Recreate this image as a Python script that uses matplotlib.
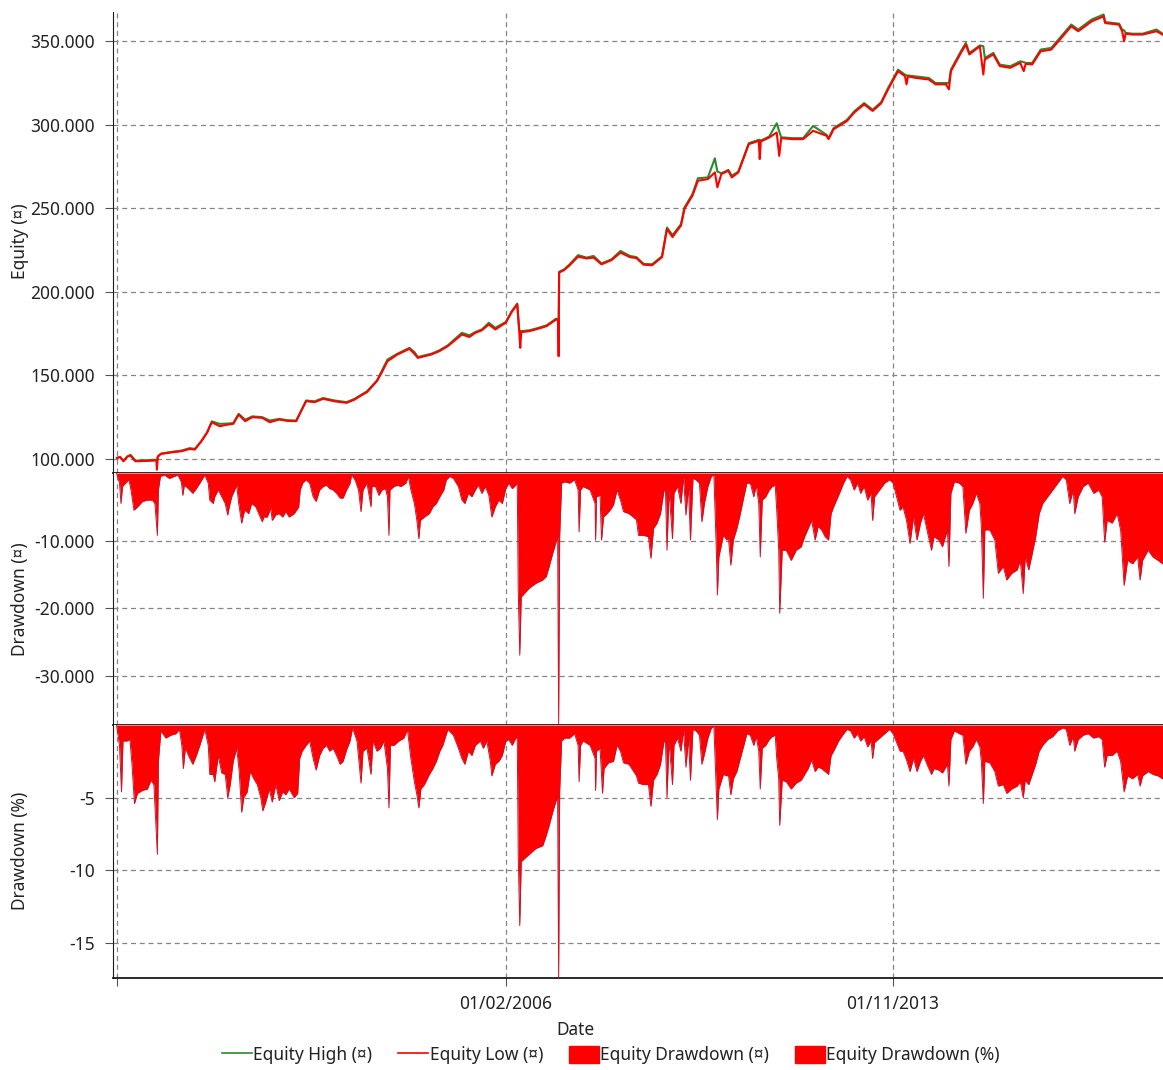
import matplotlib
matplotlib.use('Agg')
import matplotlib.pyplot as plt
import matplotlib.ticker as mticker
from matplotlib.lines import Line2D
from matplotlib.patches import Patch
import pandas as pd

plt.rcParams['font.family'] = ['Noto Sans', 'DejaVu Sans']

#Equity curve (decimal years), low and high values
eq_years = [1998.29, 1998.35, 1998.42, 1998.50, 1998.56, 1998.66, 1998.85, 1999.03, 1999.08, 1999.09,
            1999.11, 1999.17, 1999.40, 1999.58, 1999.75, 1999.85, 1999.98, 2000.10, 2000.19, 2000.35,
            2000.52, 2000.62, 2000.73, 2000.86, 2001.00, 2001.20, 2001.35, 2001.54, 2001.70, 2001.88,
            2001.95, 2002.08, 2002.25, 2002.42, 2002.65, 2002.89, 2003.05, 2003.16, 2003.30, 2003.50,
            2003.60, 2003.71, 2003.91, 2004.15, 2004.25, 2004.32, 2004.59, 2004.75, 2004.92, 2005.20,
            2005.35, 2005.47, 2005.60, 2005.74, 2005.87, 2006.08, 2006.20, 2006.31, 2006.35, 2006.37,
            2006.39, 2006.55, 2006.68, 2006.90, 2007.09, 2007.13, 2007.14, 2007.15, 2007.25, 2007.36,
            2007.53, 2007.70, 2007.84, 2008.00, 2008.20, 2008.38, 2008.57, 2008.70, 2008.84, 2009.01,
            2009.21, 2009.31, 2009.42, 2009.59, 2009.66, 2009.82, 2009.93, 2010.13, 2010.27, 2010.32,
            2010.40, 2010.54, 2010.61, 2010.74, 2010.95, 2011.15, 2011.17, 2011.19, 2011.36, 2011.51,
            2011.56, 2011.60, 2011.83, 2012.04, 2012.24, 2012.51, 2012.55, 2012.65, 2012.92, 2013.06,
            2013.26, 2013.43, 2013.60, 2013.74, 2013.94, 2014.08, 2014.11, 2014.14, 2014.28, 2014.56,
            2014.69, 2014.90, 2014.96, 2015.00, 2015.20, 2015.30, 2015.37, 2015.58, 2015.65, 2015.68,
            2015.85, 2015.98, 2016.19, 2016.39, 2016.46, 2016.50, 2016.63, 2016.80, 2017.01, 2017.21,
            2017.41, 2017.55, 2017.82, 2018.06, 2018.09, 2018.37, 2018.43, 2018.47, 2018.50, 2018.64,
            2018.84, 2019.12, 2019.24]
eq_low = [100600, 101200, 98600, 101500, 102000, 98600, 98800, 99000, 99200, 93600,
          101500, 103000, 104000, 104600, 106000, 105600, 110600, 116000, 122000, 119600,
          120600, 121000, 126600, 122600, 125000, 124600, 122000, 123600, 122800, 122600,
          127000, 134600, 134000, 136000, 134500, 133600, 135500, 137600, 140000, 146600,
          152000, 158500, 162500, 165900, 163000, 160500, 162500, 164500, 167500, 174500,
          173000, 175500, 177000, 180500, 177500, 181500, 188000, 192500, 176500, 166500,
          175900, 176500, 177500, 179500, 183500, 183000, 161500, 211600, 213000, 215900,
          221100, 220000, 220500, 216500, 219000, 223500, 220800, 220200, 216300, 215900,
          220800, 237700, 232800, 239700, 249700, 257600, 266500, 267500, 271500, 262600,
          270500, 272500, 268500, 271500, 288400, 290400, 279500, 290000, 292400, 295400,
          281400, 292000, 291400, 291400, 296400, 293400, 291400, 297300, 302300, 307300,
          312200, 308300, 312800, 321200, 332100, 329100, 324200, 329000, 328100, 327100,
          324200, 324200, 321200, 332100, 343000, 348000, 342100, 347000, 330100, 339100,
          342100, 335100, 334100, 337100, 332100, 336500, 336100, 344000, 345000, 352000,
          358900, 356000, 361900, 364900, 360900, 359900, 356000, 350000, 354500, 354000,
          354000, 356000, 354000]
eq_high = [100600, 101200, 99000, 101500, 102500, 99000, 99200, 99500, 99500, 99500,
           101500, 103200, 104300, 105000, 106500, 106000, 110600, 116000, 122500, 121000,
           121200, 121500, 127000, 123500, 125500, 125000, 123000, 124000, 123200, 123000,
           127000, 135000, 134500, 136500, 135000, 134000, 136000, 138000, 140500, 147000,
           153000, 159500, 163000, 166500, 164000, 161000, 163000, 165000, 168000, 175500,
           174000, 176000, 177500, 181500, 178500, 182000, 188500, 193000, 177000, 176500,
           176500, 177000, 178000, 180000, 184000, 183500, 183500, 212000, 213500, 216500,
           222000, 220500, 221500, 217000, 219500, 224500, 221500, 220800, 216800, 216500,
           221300, 238500, 234000, 240500, 250500, 258500, 268000, 268500, 279900, 272000,
           271000, 273000, 269500, 272000, 289000, 291000, 291000, 290500, 293000, 300900,
           296000, 292500, 292000, 292000, 299300, 294000, 292000, 298000, 303000, 308000,
           313000, 309000, 313500, 322000, 333000, 330000, 329500, 329500, 329000, 328000,
           325000, 325000, 325000, 333000, 344000, 349000, 343000, 347500, 347000, 340000,
           343000, 336000, 335000, 338000, 337500, 337000, 337000, 345000, 346000, 353000,
           360000, 357000, 363000, 366000, 361500, 360500, 357000, 356500, 355000, 354500,
           354500, 357000, 354500]

#Equity drawdown in currency
dd_cash_years = [1998.28, 1998.34, 1998.37, 1998.40, 1998.46, 1998.53, 1998.57, 1998.63, 1998.70, 1998.80,
                 1998.90, 1999.00, 1999.05, 1999.10, 1999.12, 1999.16, 1999.24, 1999.34, 1999.44, 1999.51,
                 1999.58, 1999.61, 1999.64, 1999.72, 1999.81, 1999.88, 1999.95, 2000.05, 2000.12, 2000.15,
                 2000.22, 2000.25, 2000.32, 2000.39, 2000.46, 2000.51, 2000.54, 2000.59, 2000.69, 2000.73,
                 2000.79, 2000.83, 2000.86, 2000.93, 2000.99, 2001.07, 2001.13, 2001.20, 2001.23, 2001.30,
                 2001.37, 2001.40, 2001.47, 2001.54, 2001.61, 2001.67, 2001.74, 2001.84, 2001.93, 2001.96,
                 2002.01, 2002.08, 2002.15, 2002.22, 2002.28, 2002.35, 2002.42, 2002.49, 2002.55, 2002.62,
                 2002.69, 2002.76, 2002.82, 2002.89, 2002.96, 2002.99, 2003.06, 2003.13, 2003.18, 2003.22,
                 2003.30, 2003.38, 2003.40, 2003.47, 2003.54, 2003.60, 2003.67, 2003.71, 2003.74, 2003.76,
                 2003.84, 2003.91, 2003.98, 2004.08, 2004.13, 2004.18, 2004.25, 2004.30, 2004.34, 2004.37,
                 2004.45, 2004.55, 2004.62, 2004.69, 2004.76, 2004.84, 2004.89, 2004.96, 2005.03, 2005.13,
                 2005.20, 2005.26, 2005.33, 2005.40, 2005.47, 2005.53, 2005.60, 2005.67, 2005.74, 2005.80,
                 2005.87, 2005.94, 2006.01, 2006.08, 2006.14, 2006.21, 2006.28, 2006.31, 2006.33, 2006.36,
                 2006.39, 2006.45, 2006.55, 2006.68, 2006.82, 2006.89, 2006.95, 2007.02, 2007.08, 2007.12,
                 2007.14, 2007.16, 2007.20, 2007.26, 2007.36, 2007.46, 2007.53, 2007.55, 2007.58, 2007.63,
                 2007.77, 2007.87, 2007.88, 2007.90, 2007.97, 2008.00, 2008.04, 2008.11, 2008.17, 2008.24,
                 2008.31, 2008.38, 2008.44, 2008.55, 2008.70, 2008.74, 2008.84, 2008.94, 2008.99, 2009.04,
                 2009.11, 2009.18, 2009.25, 2009.28, 2009.31, 2009.35, 2009.42, 2009.45, 2009.52, 2009.59,
                 2009.64, 2009.69, 2009.74, 2009.78, 2009.83, 2009.89, 2009.96, 2010.01, 2010.06, 2010.13,
                 2010.20, 2010.25, 2010.30, 2010.32, 2010.35, 2010.44, 2010.51, 2010.54, 2010.59, 2010.64,
                 2010.71, 2010.78, 2010.85, 2010.91, 2010.98, 2011.05, 2011.10, 2011.15, 2011.18, 2011.22,
                 2011.29, 2011.36, 2011.42, 2011.48, 2011.51, 2011.55, 2011.57, 2011.62, 2011.70, 2011.80,
                 2011.90, 2012.00, 2012.07, 2012.14, 2012.21, 2012.28, 2012.34, 2012.41, 2012.48, 2012.55,
                 2012.60, 2012.65, 2012.75, 2012.85, 2012.92, 2012.99, 2013.06, 2013.13, 2013.19, 2013.26,
                 2013.33, 2013.40, 2013.43, 2013.47, 2013.57, 2013.67, 2013.77, 2013.84, 2013.91, 2013.98,
                 2014.04, 2014.11, 2014.18, 2014.25, 2014.32, 2014.39, 2014.45, 2014.52, 2014.61, 2014.66,
                 2014.76, 2014.83, 2014.93, 2014.96, 2015.00, 2015.07, 2015.17, 2015.24, 2015.30, 2015.37,
                 2015.44, 2015.51, 2015.58, 2015.61, 2015.65, 2015.68, 2015.78, 2015.88, 2015.95, 2016.05,
                 2016.12, 2016.22, 2016.33, 2016.39, 2016.45, 2016.49, 2016.56, 2016.63, 2016.70, 2016.77,
                 2016.84, 2016.94, 2017.04, 2017.14, 2017.24, 2017.31, 2017.38, 2017.45, 2017.48, 2017.55,
                 2017.65, 2017.75, 2017.86, 2017.96, 2018.03, 2018.08, 2018.13, 2018.23, 2018.33, 2018.40,
                 2018.43, 2018.47, 2018.54, 2018.64, 2018.74, 2018.79, 2018.84, 2018.95, 2019.05, 2019.15,
                 2019.24]
dd_cash = [0, -1500, -4500, -2000, -1500, -1000, -2500, -5500, -5000, -4200,
           -4000, -4000, -4500, -9200, -2500, -500, -300, -800, -500, -300,
           -1300, -3300, -1800, -2300, -3000, -2300, -1500, -300, -1500, -4000,
           -4500, -3500, -2500, -3500, -4500, -6200, -5000, -3500, -1800, -4500,
           -7400, -6000, -5500, -6000, -4500, -5000, -6000, -7200, -6500, -6500,
           -5200, -7000, -6200, -6000, -6500, -5700, -6500, -6000, -5000, -2500,
           -1500, -1000, -1500, -3500, -4200, -2500, -2000, -1800, -2300, -2500,
           -3000, -3700, -3700, -2500, -1500, -300, -1000, -2500, -5700, -2500,
           -1500, -5000, -2000, -2000, -3300, -2500, -2300, -3500, -9200, -2500,
           -2000, -1800, -2000, -1500, -500, -2500, -4500, -7000, -9700, -7000,
           -6500, -6000, -5000, -4500, -3500, -2500, -1000, -500, -800, -2000,
           -4000, -4500, -3000, -3500, -2500, -1800, -3000, -2000, -3300, -6500,
           -5000, -4000, -4500, -2300, -1500, -2300, -1800, -1500, -17300, -26900,
           -18300, -17800, -17000, -16300, -15800, -15300, -13800, -11900, -10400, -9400,
           -37000, -9400, -1500, -1300, -1500, -1000, -2500, -8700, -2500, -2000,
           -2500, -4500, -9900, -3500, -3300, -9900, -6500, -6000, -5500, -4700,
           -2500, -4000, -5700, -6000, -6900, -9200, -9200, -9400, -12600, -8200,
           -7400, -6000, -2500, -2800, -11400, -2500, -9700, -3000, -2000, -4500,
           -500, -6200, -2000, -9900, -800, -1000, -1500, -7200, -4500, -2000,
           -500, -300, -11600, -18000, -12400, -9200, -9900, -9400, -13600, -9900,
           -8200, -6000, -3500, -1500, -1500, -3500, -1800, -4500, -12400, -4000,
           -3500, -2500, -2000, -1800, -5500, -11400, -20700, -11400, -11400, -12900,
           -11400, -10900, -9400, -8200, -7000, -9900, -7900, -8400, -9400, -9900,
           -6000, -5000, -3300, -1500, -500, -1000, -2500, -1500, -3000, -2000,
           -4000, -3000, -7000, -3500, -2500, -1500, -1000, -1500, -3500, -5500,
           -5000, -7000, -10400, -6500, -9900, -7400, -6000, -8400, -11400, -9400,
           -9900, -10900, -8400, -13800, -3000, -1300, -1500, -2000, -8900, -5500,
           -4500, -3000, -4500, -7900, -18500, -8400, -8400, -9900, -14800, -13800,
           -15800, -14800, -14300, -12900, -17800, -12400, -14300, -11900, -9400, -6000,
           -4500, -3500, -2500, -1500, -500, -1000, -4500, -2500, -6000, -3500,
           -2000, -1500, -3000, -2500, -3500, -10200, -7000, -7400, -6000, -8400,
           -11900, -16600, -12900, -13400, -12400, -15800, -12900, -11400, -12400, -12900,
           -13400]

#Equity drawdown in percent
dd_pct_years = [1998.28, 1998.34, 1998.38, 1998.41, 1998.49, 1998.55, 1998.59, 1998.64, 1998.70, 1998.80,
                1998.90, 1998.97, 1999.03, 1999.10, 1999.12, 1999.17, 1999.27, 1999.37, 1999.47, 1999.54,
                1999.59, 1999.62, 1999.66, 1999.75, 1999.81, 1999.88, 1999.95, 2000.05, 2000.12, 2000.15,
                2000.22, 2000.25, 2000.32, 2000.39, 2000.46, 2000.51, 2000.56, 2000.62, 2000.69, 2000.74,
                2000.79, 2000.83, 2000.90, 2000.96, 2001.03, 2001.10, 2001.17, 2001.21, 2001.27, 2001.34,
                2001.40, 2001.47, 2001.54, 2001.61, 2001.67, 2001.74, 2001.84, 2001.91, 2001.95, 2002.00,
                2002.08, 2002.15, 2002.22, 2002.28, 2002.35, 2002.42, 2002.49, 2002.55, 2002.62, 2002.69,
                2002.76, 2002.82, 2002.89, 2002.96, 2003.01, 2003.10, 2003.18, 2003.22, 2003.30, 2003.38,
                2003.42, 2003.50, 2003.57, 2003.64, 2003.71, 2003.74, 2003.77, 2003.84, 2003.94, 2004.04,
                2004.11, 2004.18, 2004.25, 2004.30, 2004.34, 2004.38, 2004.45, 2004.55, 2004.62, 2004.69,
                2004.76, 2004.82, 2004.92, 2005.03, 2005.13, 2005.20, 2005.26, 2005.33, 2005.40, 2005.47,
                2005.57, 2005.63, 2005.70, 2005.77, 2005.80, 2005.87, 2005.94, 2006.01, 2006.08, 2006.14,
                2006.21, 2006.28, 2006.31, 2006.33, 2006.36, 2006.39, 2006.45, 2006.55, 2006.68, 2006.82,
                2006.89, 2006.95, 2007.02, 2007.08, 2007.12, 2007.14, 2007.16, 2007.20, 2007.26, 2007.36,
                2007.46, 2007.53, 2007.55, 2007.58, 2007.63, 2007.77, 2007.87, 2007.88, 2007.90, 2007.97,
                2008.02, 2008.05, 2008.14, 2008.24, 2008.31, 2008.38, 2008.44, 2008.55, 2008.70, 2008.74,
                2008.84, 2008.94, 2008.99, 2009.04, 2009.11, 2009.18, 2009.25, 2009.28, 2009.31, 2009.35,
                2009.42, 2009.45, 2009.52, 2009.59, 2009.64, 2009.69, 2009.74, 2009.78, 2009.83, 2009.89,
                2009.96, 2010.01, 2010.06, 2010.13, 2010.20, 2010.25, 2010.30, 2010.32, 2010.35, 2010.44,
                2010.51, 2010.54, 2010.59, 2010.64, 2010.71, 2010.78, 2010.85, 2010.91, 2010.98, 2011.05,
                2011.10, 2011.15, 2011.18, 2011.22, 2011.29, 2011.36, 2011.42, 2011.48, 2011.51, 2011.55,
                2011.57, 2011.62, 2011.70, 2011.80, 2011.90, 2012.00, 2012.07, 2012.14, 2012.21, 2012.28,
                2012.34, 2012.41, 2012.48, 2012.55, 2012.60, 2012.65, 2012.75, 2012.85, 2012.92, 2012.99,
                2013.06, 2013.13, 2013.19, 2013.26, 2013.33, 2013.40, 2013.43, 2013.47, 2013.57, 2013.67,
                2013.77, 2013.84, 2013.91, 2013.98, 2014.04, 2014.11, 2014.18, 2014.25, 2014.32, 2014.39,
                2014.45, 2014.52, 2014.61, 2014.66, 2014.76, 2014.83, 2014.93, 2014.96, 2015.00, 2015.07,
                2015.17, 2015.24, 2015.30, 2015.37, 2015.44, 2015.51, 2015.58, 2015.61, 2015.65, 2015.68,
                2015.78, 2015.88, 2015.95, 2016.05, 2016.12, 2016.22, 2016.33, 2016.39, 2016.45, 2016.49,
                2016.56, 2016.63, 2016.70, 2016.77, 2016.84, 2016.94, 2017.04, 2017.14, 2017.24, 2017.31,
                2017.38, 2017.45, 2017.48, 2017.55, 2017.65, 2017.75, 2017.86, 2017.96, 2018.03, 2018.08,
                2018.13, 2018.23, 2018.33, 2018.40, 2018.43, 2018.47, 2018.54, 2018.64, 2018.74, 2018.79,
                2018.84, 2018.95, 2019.05, 2019.15, 2019.24]
dd_pct = [0, -1.4, -4.6, -1.1, -1.1, -1.0, -2.7, -5.4, -4.7, -4.5,
          -4.4, -3.8, -4.1, -8.9, -2.5, -0.4, -0.9, -0.7, -0.6, -0.3,
          -1.4, -3.0, -1.6, -2.3, -2.7, -2.1, -1.4, -0.3, -1.4, -3.4,
          -3.4, -3.9, -2.1, -3.3, -3.4, -5.0, -4.1, -2.5, -1.6, -3.2,
          -6.0, -5.0, -4.6, -3.2, -3.7, -4.1, -5.0, -5.9, -5.3, -4.4,
          -5.3, -4.1, -5.2, -4.6, -4.8, -4.4, -5.0, -4.7, -2.3, -1.8,
          -1.4, -1.1, -2.3, -3.1, -2.1, -1.6, -1.4, -1.8, -1.6, -2.1,
          -2.7, -2.5, -1.7, -1.1, -0.2, -1.1, -4.0, -1.8, -1.6, -3.4,
          -1.1, -1.8, -1.6, -1.1, -3.0, -5.7, -1.4, -1.4, -1.1, -0.9,
          -0.3, -2.3, -3.9, -4.8, -5.7, -4.4, -4.1, -3.4, -3.0, -2.5,
          -1.8, -1.4, -0.3, -0.7, -1.6, -2.3, -2.7, -1.8, -2.1, -1.4,
          -1.1, -1.6, -1.1, -2.5, -3.5, -2.7, -2.5, -2.1, -1.1, -1.0,
          -1.4, -0.9, -0.9, -9.0, -13.8, -9.4, -9.2, -8.9, -8.5, -8.3,
          -7.6, -6.9, -6.0, -5.3, -5.0, -17.4, -4.6, -1.1, -0.9, -0.9,
          -0.6, -1.4, -3.9, -1.4, -1.1, -1.4, -2.3, -4.5, -1.8, -1.6,
          -4.7, -3.0, -2.6, -2.5, -1.4, -1.8, -2.6, -2.7, -3.5, -4.0,
          -4.1, -4.1, -5.6, -3.8, -3.4, -2.7, -1.1, -1.2, -5.0, -1.1,
          -4.1, -1.4, -0.9, -1.8, -0.3, -2.9, -0.9, -3.8, -0.3, -0.4,
          -0.7, -2.7, -2.0, -0.9, -0.2, -0.1, -4.6, -6.5, -4.4, -3.4,
          -3.5, -3.4, -4.8, -3.7, -3.2, -2.3, -1.4, -0.6, -0.7, -1.4,
          -0.8, -1.8, -4.4, -1.6, -1.4, -1.0, -0.8, -0.7, -2.3, -3.7,
          -6.9, -3.8, -3.9, -4.4, -4.0, -3.8, -3.4, -3.0, -2.4, -3.2,
          -2.9, -3.0, -3.2, -3.4, -2.1, -1.8, -1.1, -0.6, -0.3, -0.4,
          -0.9, -0.6, -1.1, -0.8, -1.5, -1.1, -2.3, -1.2, -0.9, -0.6,
          -0.3, -0.6, -1.2, -1.8, -1.8, -2.4, -3.2, -2.3, -3.2, -2.5,
          -2.1, -2.7, -3.4, -3.0, -3.1, -3.3, -2.7, -4.2, -1.0, -0.4,
          -0.6, -0.7, -2.7, -1.8, -1.5, -1.0, -1.5, -2.5, -5.4, -2.5,
          -2.6, -3.2, -4.2, -4.1, -4.7, -4.4, -4.2, -3.9, -5.0, -3.8,
          -4.1, -3.4, -2.7, -1.8, -1.4, -1.0, -0.8, -0.4, -0.2, -0.3,
          -1.4, -0.8, -1.8, -1.0, -0.7, -0.6, -0.9, -0.8, -1.0, -2.9,
          -2.1, -2.1, -1.8, -2.5, -3.4, -4.6, -3.5, -3.7, -3.4, -4.2,
          -3.5, -3.2, -3.4, -3.5, -3.7]

tick_dates = ['1998-04-17', '2006-02-01', '2013-11-01']
tick_labels = ['', '01/02/2006', '01/11/2013']


def to_dates(years):
    out = []
    for y in years:
        base = pd.Timestamp(year=int(y), month=1, day=1)
        out.append(base + pd.Timedelta(days=(y - int(y)) * 365.25))
    return out


def thousands(v, pos):
    return f'{v:,.0f}'.replace(',', '.')


def main():
    fig = plt.figure(figsize=(11.63, 10.70), dpi=100)
    left = 113 / 1163
    width = 1 - left
    ax1 = fig.add_axes([left, 1 - 473 / 1070, width, 461 / 1070])
    ax2 = fig.add_axes([left, 1 - 725 / 1070, width, 252 / 1070], sharex=ax1)
    ax3 = fig.add_axes([left, 1 - 978 / 1070, width, 253 / 1070], sharex=ax1)

    red = '#ff0000'
    green = '#2a8a2a'
    edge = '#c8142a'
    text_col = '#222222'
    fs = 12.5

    eq_d = to_dates(eq_years)
    ax1.plot(eq_d, eq_high, color=green, lw=1.5, zorder=3)
    ax1.plot(eq_d, eq_low, color=red, lw=1.5, zorder=4)

    dd_d = to_dates(dd_cash_years)
    ax2.fill_between(dd_d, dd_cash, 0, color=red, lw=0, zorder=3)
    ax2.plot(dd_d, dd_cash, color=edge, lw=0.7, zorder=4)

    pct_d = to_dates(dd_pct_years)
    ax3.fill_between(pct_d, dd_pct, 0, color=red, lw=0, zorder=3)
    ax3.plot(pct_d, dd_pct, color=edge, lw=0.7, zorder=4)

    ax1.set_ylim(91600, 367500)
    ax1.set_yticks([100000, 150000, 200000, 250000, 300000, 350000])
    ax2.set_ylim(-37200, 0)
    ax2.set_yticks([-30000, -20000, -10000])
    ax3.set_ylim(-17.4, 0)
    ax3.set_yticks([-15, -10, -5])
    ax1.yaxis.set_major_formatter(mticker.FuncFormatter(thousands))
    ax2.yaxis.set_major_formatter(mticker.FuncFormatter(thousands))
    ax3.yaxis.set_major_formatter(mticker.FuncFormatter(lambda v, p: f'{v:.0f}'))

    ax1.set_xlim(to_dates([1998.21])[0], to_dates([2019.25])[0])
    ticks = [pd.Timestamp(t) for t in tick_dates]

    for ax in (ax1, ax2, ax3):
        ax.set_xticks(ticks)
        ax.grid(True, color='#858585', linestyle=(0, (4, 3)), linewidth=0.9, zorder=1)
        ax.spines['top'].set_visible(False)
        ax.spines['right'].set_visible(False)
        ax.spines['left'].set_color('#1a1a1a')
        ax.spines['bottom'].set_color('#1a1a1a')
        ax.spines['bottom'].set_linewidth(1.3)
        ax.tick_params(axis='y', length=6, pad=7, labelsize=fs, colors='#555555', labelcolor=text_col)
        ax.set_facecolor('white')

    ax1.tick_params(axis='x', length=0, labelbottom=False)
    ax2.tick_params(axis='x', length=0, labelbottom=False)
    ax3.set_xticklabels(tick_labels)
    ax3.tick_params(axis='x', length=6, pad=6, labelsize=fs, colors='#555555', labelcolor=text_col)

    fig.text(20 / 1163, 1 - 241 / 1070, 'Equity (¤)', rotation=90, ha='center', va='center',
             fontsize=fs, color=text_col)
    fig.text(20 / 1163, 1 - 599 / 1070, 'Drawdown (¤)', rotation=90, ha='center', va='center',
             fontsize=fs, color=text_col)
    fig.text(20 / 1163, 1 - 851 / 1070, 'Drawdown (%)', rotation=90, ha='center', va='center',
             fontsize=fs, color=text_col)
    fig.text(575 / 1163, 1 - 1030 / 1070, 'Date', ha='center', va='center', fontsize=fs, color=text_col)

    handles = [Line2D([0], [0], color=green, lw=1.2),
               Line2D([0], [0], color=red, lw=1.2),
               Patch(facecolor=red, edgecolor=red),
               Patch(facecolor=red, edgecolor=red)]
    labels = ['Equity High (¤)', 'Equity Low (¤)', 'Equity Drawdown (¤)', 'Equity Drawdown (%)']
    fig.legend(handles, labels, loc='center', bbox_to_anchor=(611 / 1163, 1 - 1055 / 1070), ncol=4,
               frameon=False, fontsize=fs, handlelength=1.7, handleheight=1.15, handletextpad=0.1,
               columnspacing=1.5, labelcolor=text_col, borderpad=0)

    fig.savefig('out.png', dpi=100)


if __name__ == '__main__':
    main()
